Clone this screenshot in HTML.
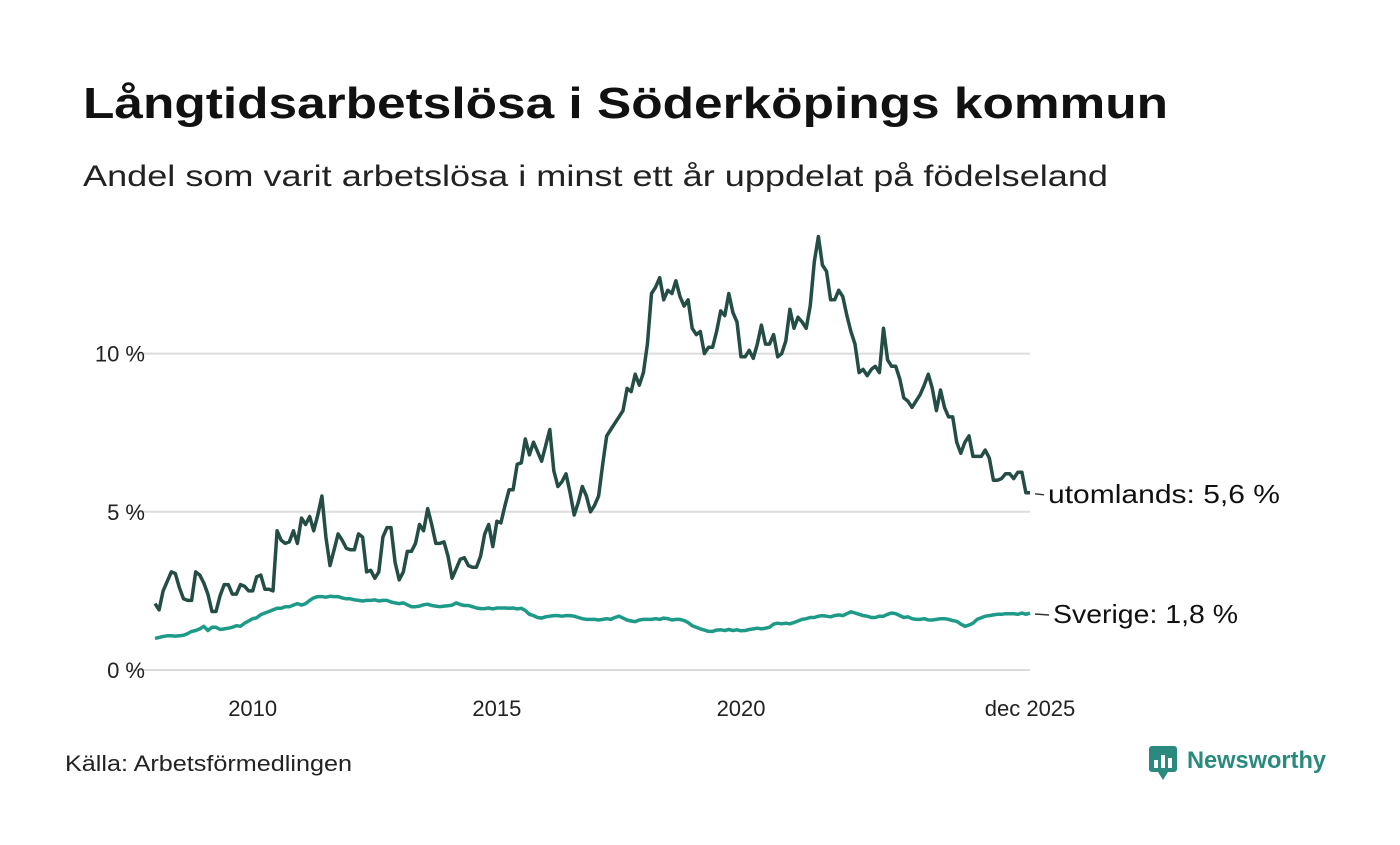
<!DOCTYPE html>
<html><head><meta charset="utf-8"><style>
body{margin:0;background:#fff;}
svg text{font-family:"Liberation Sans",sans-serif;}
</style></head><body>
<svg id="chart" width="1400" height="840" xmlns="http://www.w3.org/2000/svg">
<rect width="1400" height="840" fill="#fff"/>
<text x="83" y="118" font-size="44" font-weight="bold" fill="#111" textLength="1085" lengthAdjust="spacingAndGlyphs">Långtidsarbetslösa i Söderköpings kommun</text>
<text x="83" y="186" font-size="30" fill="#222" textLength="1025" lengthAdjust="spacingAndGlyphs">Andel som varit arbetslösa i minst ett år uppdelat på födelseland</text>
<g id="grid"></g>
<g id="series"></g>
<text x="65" y="771" font-size="22" fill="#222" textLength="287" lengthAdjust="spacingAndGlyphs">Källa: Arbetsförmedlingen</text>
<g>
<rect x="1149" y="746" width="28" height="26" rx="3" fill="#2a8a7e"/>
<path d="M1158 772 L1163 780 L1168 772 Z" fill="#2a8a7e"/>
<rect x="1154" y="760" width="4" height="8" fill="#fff"/><rect x="1161" y="755" width="4" height="13" fill="#fff"/><rect x="1168" y="758" width="4" height="10" fill="#fff"/>
<text x="1187" y="768" font-size="24" font-weight="bold" fill="#2a8a7e" textLength="139" lengthAdjust="spacingAndGlyphs">Newsworthy</text>
</g>
</svg>
<script>
const yTicks=[0,5,10];
const yTickLabels=["0 %","5 %","10 %"];
const xTicks=[2010,2015,2020,2025.917];
const xTickLabels=["2010","2015","2020","dec 2025"];
const startYear=2008;
const utomlands=[2.1,1.9,2.5,2.8,3.1,3.05,2.6,2.25,2.2,2.2,3.1,3.0,
2.75,2.4,1.85,1.85,2.35,2.7,2.7,2.4,2.4,2.7,2.65,2.5,
2.5,2.95,3.0,2.55,2.55,2.5,4.4,4.1,4.0,4.05,4.4,4.0,
4.8,4.6,4.85,4.4,4.9,5.5,4.2,3.3,3.8,4.3,4.1,3.85,
3.8,3.8,4.3,4.2,3.1,3.15,2.9,3.1,4.2,4.5,4.5,3.4,
2.85,3.1,3.75,3.75,4.0,4.6,4.4,5.1,4.6,4.0,4.0,4.05,
3.6,2.9,3.2,3.5,3.55,3.3,3.25,3.25,3.6,4.3,4.6,3.9,
4.7,4.65,5.2,5.7,5.7,6.5,6.55,7.3,6.8,7.2,6.9,6.6,
7.1,7.6,6.3,5.8,5.95,6.2,5.6,4.9,5.3,5.8,5.5,5.0,
5.2,5.5,6.5,7.4,7.6,7.8,8.0,8.2,8.9,8.8,9.35,9.0,
9.4,10.3,11.9,12.1,12.4,11.7,12.0,11.9,12.3,11.8,11.5,11.7,
10.8,10.6,10.7,10.0,10.2,10.2,10.7,11.35,11.2,11.9,11.3,11.0,
9.9,9.9,10.1,9.85,10.3,10.9,10.3,10.3,10.6,9.9,10.0,10.4,
11.4,10.8,11.15,11.0,10.8,11.5,12.9,13.7,12.8,12.6,11.7,11.7,
12.0,11.8,11.2,10.7,10.3,9.4,9.5,9.3,9.5,9.6,9.4,10.8,
9.8,9.6,9.6,9.2,8.6,8.5,8.3,8.5,8.7,9.0,9.35,8.9,
8.2,8.85,8.3,8.0,8.0,7.2,6.85,7.2,7.4,6.75,6.75,6.75,
6.95,6.7,6.0,6.0,6.05,6.2,6.2,6.05,6.25,6.25,5.6,5.6];
const sverige=[1.0,1.03,1.06,1.08,1.08,1.07,1.08,1.1,1.15,1.22,1.25,1.3,
1.38,1.25,1.35,1.35,1.28,1.3,1.32,1.35,1.4,1.38,1.48,1.55,
1.62,1.65,1.75,1.8,1.85,1.9,1.95,1.95,2.0,2.0,2.05,2.1,
2.05,2.1,2.2,2.28,2.32,2.32,2.3,2.33,2.32,2.32,2.28,2.25,
2.25,2.22,2.2,2.18,2.2,2.2,2.22,2.18,2.2,2.2,2.15,2.12,
2.1,2.12,2.06,2.0,2.0,2.02,2.06,2.08,2.04,2.02,2.0,2.02,
2.03,2.05,2.12,2.07,2.04,2.04,2.0,1.96,1.94,1.94,1.96,1.93,
1.96,1.96,1.96,1.95,1.96,1.93,1.95,1.88,1.76,1.72,1.66,1.64,
1.68,1.7,1.72,1.72,1.7,1.72,1.72,1.7,1.66,1.62,1.6,1.6,
1.6,1.58,1.6,1.62,1.6,1.66,1.7,1.64,1.58,1.55,1.53,1.58,
1.6,1.6,1.6,1.62,1.6,1.64,1.62,1.58,1.6,1.6,1.56,1.5,
1.4,1.35,1.3,1.26,1.22,1.22,1.26,1.27,1.25,1.28,1.25,1.27,
1.24,1.25,1.28,1.3,1.32,1.3,1.32,1.35,1.45,1.48,1.46,1.48,
1.46,1.5,1.55,1.6,1.62,1.66,1.66,1.7,1.72,1.7,1.68,1.72,
1.74,1.72,1.78,1.84,1.8,1.76,1.72,1.7,1.66,1.66,1.7,1.7,
1.76,1.8,1.78,1.72,1.66,1.68,1.62,1.6,1.6,1.62,1.58,1.58,
1.6,1.62,1.62,1.6,1.56,1.54,1.45,1.38,1.42,1.48,1.6,1.65,
1.7,1.72,1.74,1.76,1.76,1.78,1.78,1.78,1.76,1.8,1.76,1.8];
const seriesNames=["utomlands","Sverige"];
const NS="http://www.w3.org/2000/svg";
const x0=155,x1=1030,n=utomlands.length;
function xYear(yr){return x0+(yr-startYear)*12*(x1-x0)/(12*18-1);}
function xIdx(i){return xYear(startYear+i/12);}
function yVal(v){return 670-v*31.64;}
function fmt(v){return v.toFixed(1).replace('.',',')+' %';}
const grid=document.getElementById('grid');
yTicks.forEach((t,i)=>{
 const l=document.createElementNS(NS,'line');
 
 
 l.setAttribute('x1',130);l.setAttribute('x2',1030);l.setAttribute('y1',yVal(t));l.setAttribute('y2',yVal(t));
 l.setAttribute('stroke','#dcdcdc');l.setAttribute('stroke-width','2');grid.appendChild(l);
 const tx=document.createElementNS(NS,'text');
 
 
 tx.setAttribute('x',145);tx.setAttribute('y',yVal(t)+8);tx.setAttribute('text-anchor','end');
 tx.setAttribute('font-size','22');tx.setAttribute('fill','#222');tx.textContent=yTickLabels[i];grid.appendChild(tx);
});
xTicks.forEach((t,i)=>{
 const tx=document.createElementNS(NS,'text');
 
 
 tx.setAttribute('x',xYear(t));tx.setAttribute('y',716);tx.setAttribute('text-anchor','middle');
 tx.setAttribute('font-size','22');tx.setAttribute('fill','#222');tx.textContent=xTickLabels[i];grid.appendChild(tx);
});
const sg=document.getElementById('series');
function drawSeries(vals,color,name,labelName,labelX,labelW){
 const p=document.createElementNS(NS,'path');
 
 
 p.setAttribute('d',vals.map((v,i)=>(i?'L':'M')+xIdx(i).toFixed(1)+' '+yVal(v).toFixed(1)).join(''));
 p.setAttribute('fill','none');p.setAttribute('stroke',color);p.setAttribute('stroke-width','3.5');p.setAttribute('stroke-linejoin','round');
 sg.appendChild(p);
 const last=vals[vals.length-1],ly=yVal(last);
 const lab=document.createElementNS(NS,'text');
 
 
 lab.setAttribute('x',labelX);lab.setAttribute('y',ly+10);lab.setAttribute('font-size','26');lab.setAttribute('fill','#111');
 lab.setAttribute('textLength',labelW);lab.setAttribute('lengthAdjust','spacingAndGlyphs');
 lab.textContent=labelName+': '+fmt(last);sg.appendChild(lab);
 const ld=document.createElementNS(NS,'line');
 
 
 ld.setAttribute('x1',1035);ld.setAttribute('x2',labelX-4);ld.setAttribute('y1',ly+1);ld.setAttribute('y2',ly+2);
 ld.setAttribute('stroke','#333');ld.setAttribute('stroke-width','1.5');sg.appendChild(ld);
}
drawSeries(sverige,'#1e9a88','sverige',seriesNames[1],1053,185);
drawSeries(utomlands,'#244d45','utomlands',seriesNames[0],1048,232);
</script>
</body></html>
